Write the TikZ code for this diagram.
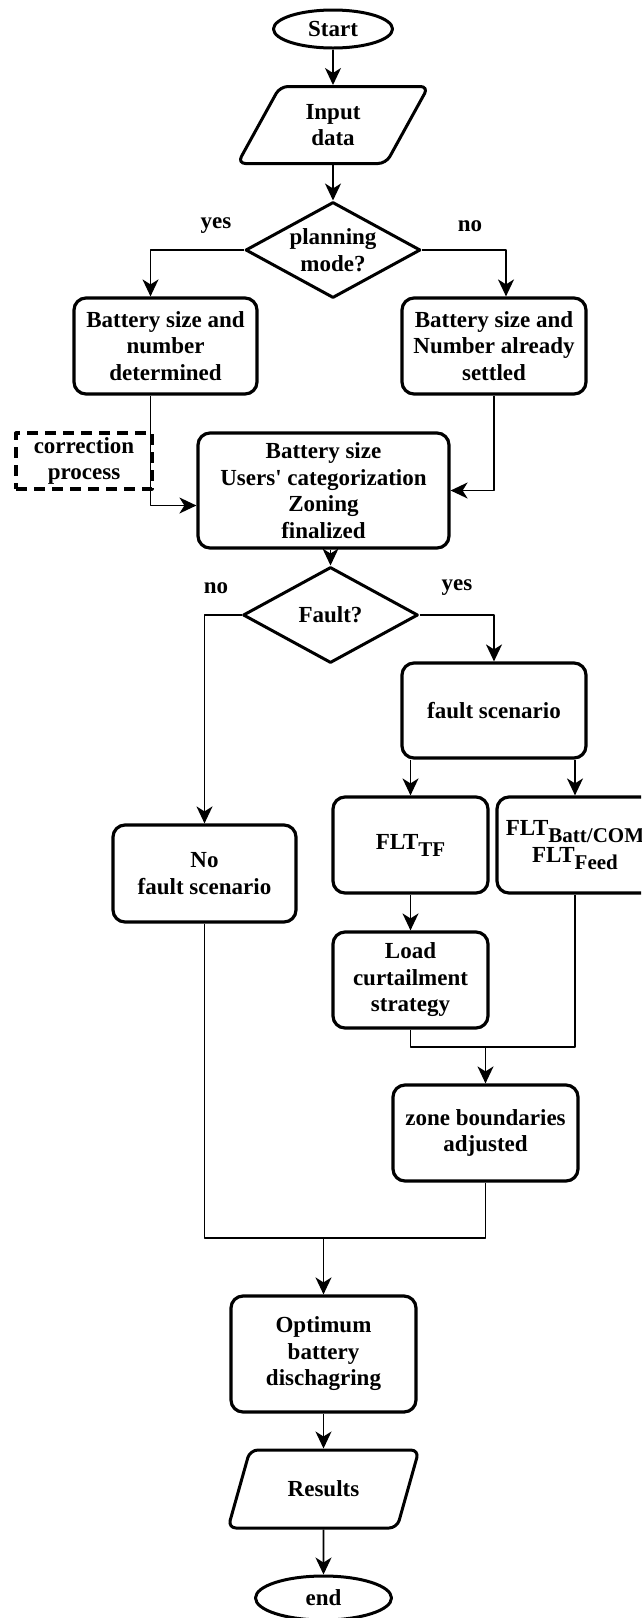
\documentclass[tikz,border=0pt]{standalone}
\usepackage{fontspec}
\setmainfont{Liberation Serif}
\usetikzlibrary{shapes.geometric,arrows.meta}
\newcommand{\fltsub}[1]{\raisebox{-7pt}{\fontsize{21}{22}\selectfont #1}}

\begin{document}
\begin{tikzpicture}[x=1pt, y=-1pt, font=\fontsize{23}{26.5}\selectfont\bfseries, line join=round, >={Stealth[length=17pt,width=16pt,inset=5pt]},
	term/.style={draw, ellipse, line width=3pt, inner sep=0pt},
	io/.style={draw, trapezium, trapezium left angle=63, trapezium right angle=117, trapezium stretches=true, rounded corners=8pt, line width=3pt, minimum width=191pt, minimum height=77pt, align=center},
	decision/.style={draw, diamond, aspect=1.8, inner sep=0pt, line width=3pt, minimum width=175pt, minimum height=96pt, align=center},
	process/.style={draw, rounded corners=12pt, line width=3.2pt, align=center, inner sep=2pt},
	corrbox/.style={draw, dash pattern=on 11pt off 7pt, line width=3.2pt, align=center},
	conn/.style={line width=1.6pt}]
	\clip (0,0) rectangle (641,1618);
	% upper part
	\node[term, minimum width=119pt, minimum height=38pt] (start) at (333,29) {Start};
	\node[io] (input) at (333,125) {Input\\data};
	\node[decision] (plan) at (333,250) {planning\\mode?};
	\node (yes1) at (216,226) {yes};
	\node (no1) at (470,226) {no};
	\node[process, minimum width=183pt, minimum height=96pt] (sizedet) at (165.5,346) {Battery size and\\number\\determined};
	\node[process, minimum width=184pt, minimum height=96pt] (sizeset) at (494,346) {Battery size and\\Number already\\settled};
	\node[corrbox, minimum width=136pt, minimum height=56pt] (corr) at (84,461) {correction\\process};
	\node[process, minimum width=251pt, minimum height=115pt] (final) at (323.5,490.5) {Battery size\\Users\textquotesingle{} categorization\\Zoning\\finalized};
	% fault branch
	\node[decision] (fault) at (330.5,615) {Fault?};
	\node (no2) at (216,588) {no};
	\node (yes2) at (457,588) {yes};
	\node[process, minimum width=184pt, minimum height=95pt] (fscen) at (494,710.5) {fault scenario};
	\node[process, minimum width=183pt, minimum height=97pt] (nofault) at (204.5,873.5) {No\\fault scenario};
	\node[process, minimum width=155pt, minimum height=96pt] (flttf) at (410.5,845) {FLT\fltsub{TF}};
	\node[process, minimum width=156pt, minimum height=96pt] (fltbatt) at (575,845) {FLT\fltsub{Batt/COM}\\FLT\fltsub{Feed}};
	\node[process, minimum width=155pt, minimum height=96pt] (load) at (410.5,980) {Load\\curtailment\\strategy};
	\node[process, minimum width=185pt, minimum height=96pt] (zone) at (485.5,1133) {zone boundaries\\adjusted};
	% lower part
	\node[process, minimum width=185pt, minimum height=116pt] (opt) at (323.5,1354) {Optimum\\battery\\dischagring};
	\node[io, minimum height=78pt] (res) at (323.5,1489) {Results};
	\node[term, minimum width=136pt, minimum height=44pt] (stop) at (323.5,1598) {end};
	\coordinate (merge) at (485.5,1047);
	\coordinate (join) at (323.5,1238);

	\draw[conn,->] (start) -- (input);
	\draw[conn,->] (input) -- (plan);
	\draw[conn,->] (plan.west) -| ([xshift=-15pt]sizedet.north);
	\draw[conn,->] (plan.east) -| ([xshift=12pt]sizeset.north);
	\draw[conn,->] ([xshift=-15pt]sizedet.south) |- ([yshift=-15pt]final.west);
	\draw[conn,->] (sizeset.south) |- (final.east);
	\draw[conn,->] (fault.north |- final.south) -- (fault.north);
	\draw[conn,->] (fault.west) -| (nofault.north);
	\draw[conn,->] (fault.east) -| (fscen.north);
	\draw[conn,->] (fscen.south -| flttf.north) -- (flttf.north);
	\draw[conn,->] (fscen.south -| fltbatt.north) -- (fltbatt.north);
	\draw[conn,->] (flttf) -- (load);
	\draw[conn] (load.south) |- (merge) -| (fltbatt.south);
	\draw[conn,->] (merge) -- (zone);
	\draw[conn] (nofault.south) |- (join) -| (zone.south);
	\draw[conn,->] (join) -- (opt);
	\draw[conn,->] (opt) -- (res);
	\draw[conn,->] (res) -- (stop);
\end{tikzpicture}
\end{document}
